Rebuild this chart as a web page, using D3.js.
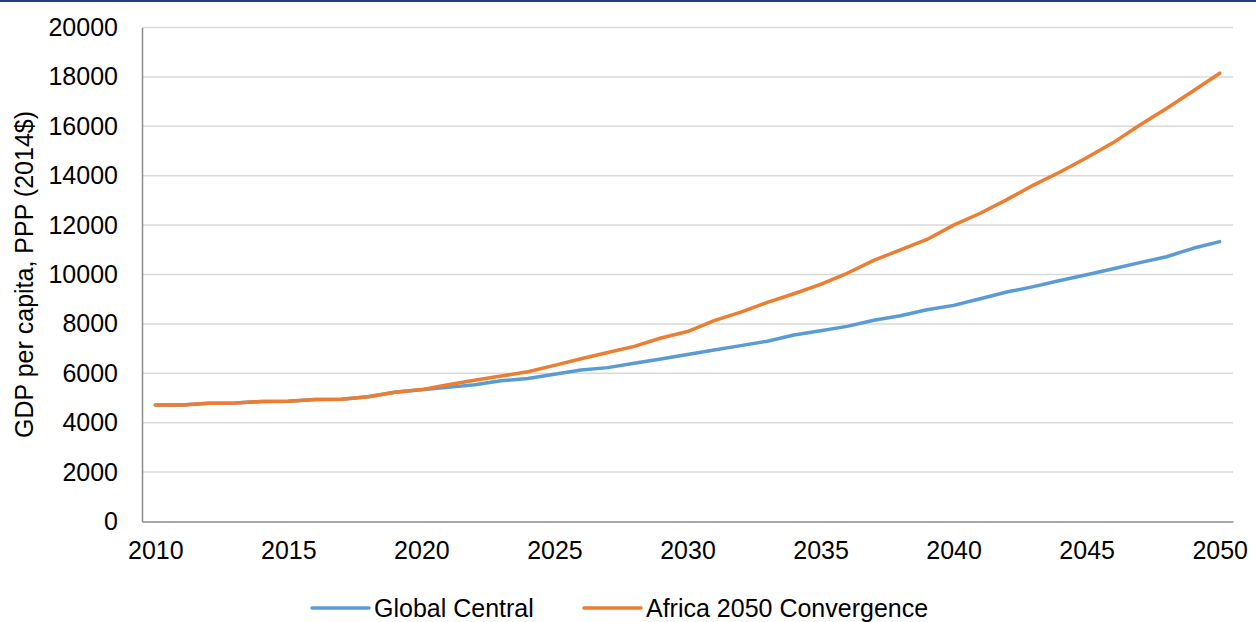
<!DOCTYPE html>
<html><head><meta charset="utf-8">
<script src="https://cdn.jsdelivr.net/npm/d3@7"></script>
<style>html,body{margin:0;padding:0;background:#fff;}svg{display:block;}</style>
</head><body>
<svg id="chart" width="1256" height="622"></svg>
<script>
const years = d3.range(2010, 2051);
const globalCentral = [4720,4720,4790,4800,4860,4870,4940,4950,5050,5230,5330,5430,5540,5700,5790,5960,6130,6230,6410,6580,6760,6940,7120,7300,7550,7720,7900,8150,8330,8570,8750,9020,9290,9510,9760,9990,10230,10480,10720,11060,11330];
const africaConvergence = [4720,4720,4790,4800,4860,4870,4940,4950,5050,5230,5340,5540,5720,5890,6060,6320,6590,6840,7090,7430,7690,8130,8480,8870,9220,9600,10050,10570,11000,11420,12000,12480,13030,13620,14150,14730,15340,16050,16720,17430,18150];
const yTicks = [0,2000,4000,6000,8000,10000,12000,14000,16000,18000,20000];
const xTickYears = [2010,2015,2020,2025,2030,2035,2040,2045,2050];
const seriesNames = ["Global Central","Africa 2050 Convergence"];
const seriesColors = ["#5b9bd5","#ed7d31"];

const svg = d3.select("#chart");
const mLeft = 142, mRight = 1233, mTop = 27.5, mBottom = 521.5;
const font = "'Liberation Sans', Arial, Helvetica, sans-serif";
const fs = 25;

svg.append("rect").attr("x",0).attr("y",0).attr("width",1256).attr("height",2).attr("fill","#1f3d7a");

const x = d3.scalePoint().domain(years).range([mLeft, mRight]).padding(0.5);
const y = d3.scaleLinear().domain([0,20000]).range([mBottom, mTop]);

// gridlines
svg.append("g").selectAll("line").data(yTicks.filter(d=>d>0)).join("line")
  .attr("x1",mLeft).attr("x2",mRight).attr("y1",d=>y(d)).attr("y2",d=>y(d))
  .attr("stroke","#d9d9d9").attr("stroke-width",1.5);

// y axis
const yAxis = svg.append("g").attr("transform",`translate(${mLeft},0)`)
  .call(d3.axisLeft(y).tickValues(yTicks).tickSize(0).tickPadding(24).tickFormat(d3.format("d")));
yAxis.select(".domain").attr("stroke","#8c8c8c").attr("stroke-width",1.5);
yAxis.selectAll("text").attr("font-family",font).attr("font-size",fs).attr("fill","#000");

// x axis
const xAxis = svg.append("g").attr("transform",`translate(0,${mBottom})`)
  .call(d3.axisBottom(x).tickValues(xTickYears).tickSize(0).tickPadding(20).tickFormat(d3.format("d")));
xAxis.select(".domain").attr("stroke","#8c8c8c").attr("stroke-width",1.5);
xAxis.selectAll("text").attr("font-family",font).attr("font-size",fs).attr("fill","#000");

// y axis title
svg.append("text").attr("transform",`translate(33,${(mTop+mBottom)/2}) rotate(-90)`)
  .attr("text-anchor","middle").attr("font-family",font).attr("font-size",fs).attr("fill","#000")
  .text("GDP per capita, PPP (2014$)");

// lines
const line = d3.line().x((d,i)=>x(years[i])).y(d=>y(d));
[globalCentral, africaConvergence].forEach((s,k)=>{
  svg.append("path").datum(s).attr("d",line).attr("fill","none")
    .attr("stroke",seriesColors[k]).attr("stroke-width",3.5)
    .attr("stroke-linejoin","round").attr("stroke-linecap","round");
});

// legend
const legendY = 608;
const legendX = [312, 584];
seriesNames.forEach((n,k)=>{
  const g = svg.append("g").attr("transform",`translate(${legendX[k]},${legendY})`);
  g.append("line").attr("x1",0).attr("x2",57).attr("y1",0).attr("y2",0)
    .attr("stroke",seriesColors[k]).attr("stroke-width",3.5).attr("stroke-linecap","round");
  g.append("text").attr("x",62).attr("y",0).attr("dy","0.35em")
    .attr("font-family",font).attr("font-size",fs).attr("fill","#000").text(n);
});
</script>
</body></html>
